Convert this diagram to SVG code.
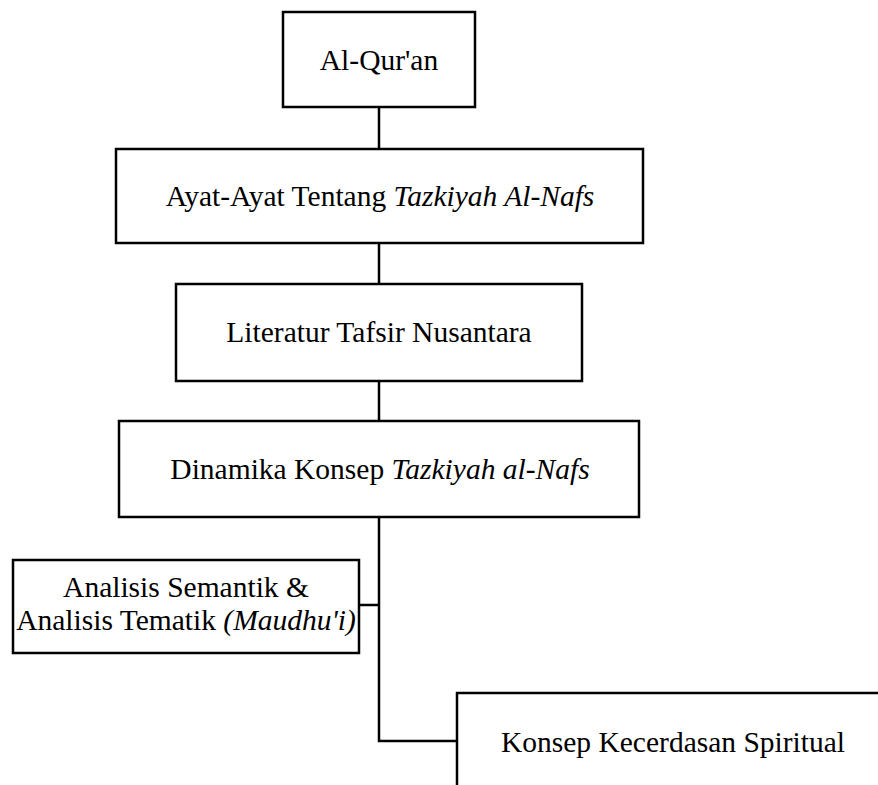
<svg xmlns="http://www.w3.org/2000/svg" width="878" height="785" viewBox="0 0 878 785">
<style>
.box{fill:#fff;stroke:#000;stroke-width:2.5}
.t{font-size:29.5px;fill:#000;text-anchor:middle}
.i{font-style:italic}
.c{fill:none;stroke:#000;stroke-width:2.5}
</style>
<rect width="878" height="785" fill="#fff"/>
<g id="connectors">
<line class="c" x1="379" y1="107" x2="379" y2="149"/>
<line class="c" x1="379" y1="243" x2="379" y2="284"/>
<line class="c" x1="379" y1="381" x2="379" y2="421"/>
<polyline class="c" points="379,517 379,741 457,741"/>
<line class="c" x1="359" y1="605" x2="379" y2="605"/>
</g>
<g font-family="'Liberation Serif', 'Times New Roman', 'DejaVu Serif', serif">
<g id="n1"><rect class="box" x="283" y="12" width="192" height="95"/><text class="t" x="379" y="70">Al-Qur'an</text></g>
<g id="n2"><rect class="box" x="116" y="149" width="527" height="94"/><text class="t" x="380" y="206">Ayat-Ayat Tentang <tspan class="i">Tazkiyah Al-Nafs</tspan></text></g>
<g id="n3"><rect class="box" x="176" y="284" width="406" height="97"/><text class="t" x="379" y="342">Literatur Tafsir Nusantara</text></g>
<g id="n4"><rect class="box" x="119" y="421" width="520" height="96"/><text class="t" x="380" y="479">Dinamika Konsep <tspan class="i">Tazkiyah al-Nafs</tspan></text></g>
<g id="n5"><rect class="box" x="13" y="560" width="346" height="93"/><text class="t" x="186" y="597">Analisis Semantik &amp;</text><text class="t" x="186" y="630">Analisis Tematik <tspan class="i">(Maudhu'i)</tspan></text></g>
<g id="n6"><rect class="box" x="457" y="693" width="432" height="100"/><text class="t" x="673" y="752">Konsep Kecerdasan Spiritual</text></g>
</g>
</svg>
